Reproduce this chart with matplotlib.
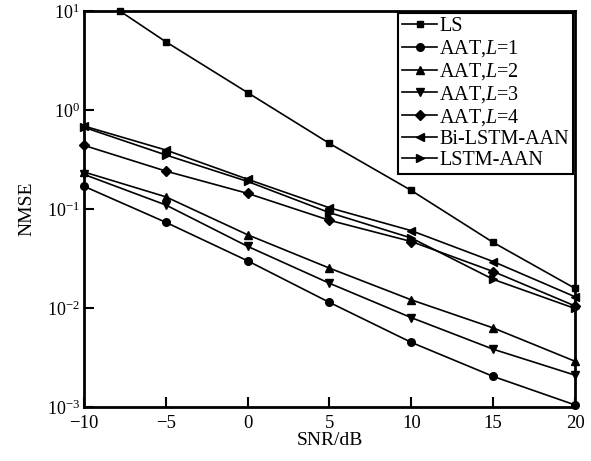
import matplotlib
matplotlib.use("Agg")
import matplotlib.pyplot as plt
import matplotlib.transforms as mtransforms
from matplotlib.ticker import LogLocator, NullLocator, FixedLocator

plt.rcParams['font.family'] = ['Liberation Serif', 'DejaVu Serif']
plt.rcParams['mathtext.fontset'] = 'custom'
plt.rcParams['mathtext.rm'] = 'Liberation Serif'
plt.rcParams['mathtext.it'] = 'Liberation Serif:italic'
plt.rcParams['mathtext.bf'] = 'Liberation Serif:bold'

snr = [-10, -5, 0, 5, 10, 15, 20]

# LS curve enters the plotted range at the top edge
ls_snr = [-7.8, -5, 0, 5, 10, 15, 20]
ls = [10.0, 4.9, 1.5, 0.46, 0.154, 0.046, 0.0158]

aat_l1 = [0.17, 0.0735, 0.030, 0.0114, 0.0045, 0.00204, 0.00105]
aat_l2 = [0.237, 0.133, 0.055, 0.0253, 0.0121, 0.0063, 0.0029]
aat_l3 = [0.224, 0.110, 0.042, 0.0178, 0.0080, 0.00384, 0.0021]
aat_l4 = [0.44, 0.242, 0.144, 0.077, 0.047, 0.0234, 0.0105]
bi_lstm = [0.69, 0.395, 0.20, 0.103, 0.0605, 0.0295, 0.013]
lstm = [0.67, 0.352, 0.19, 0.092, 0.051, 0.0195, 0.0099]

x_ticks = [-10, -5, 0, 5, 10, 15, 20]

fig = plt.figure(figsize=(5.91, 4.61), dpi=100)
ax = fig.add_axes([0.142, 0.117, 0.831, 0.859])

style = dict(color='black', linewidth=1.2, clip_on=False)
ax.plot(ls_snr, ls, marker='s', markersize=5, label='LS', **style)
ax.plot(snr, aat_l1, marker='o', markersize=5.5, label='AAT,$L$=1', **style)
ax.plot(snr, aat_l2, marker='^', markersize=5.5, label='AAT,$L$=2', **style)
ax.plot(snr, aat_l3, marker='v', markersize=5.5, label='AAT,$L$=3', **style)
ax.plot(snr, aat_l4, marker='D', markersize=4.8, label='AAT,$L$=4', **style)
ax.plot(snr, bi_lstm, marker='<', markersize=5.5, label='Bi-LSTM-AAN', **style)
ax.plot(snr, lstm, marker='>', markersize=5.5, label='LSTM-AAN', **style)

ax.set_yscale('log')
ax.set_xlim(-10, 20)
ax.set_ylim(1e-3, 1e1)
ax.xaxis.set_major_locator(FixedLocator(x_ticks))
ax.set_xticklabels(['\u221210', '\u22125', '0', '5', '10', '15', '20'])
ax.yaxis.set_major_locator(LogLocator(base=10, numticks=10))
ax.yaxis.set_minor_locator(NullLocator())

ax.tick_params(axis='both', which='major', direction='in', length=7, width=1.5,
               top=False, right=False, colors='black')
ax.tick_params(axis='x', pad=6, labelsize=13.5)
ax.tick_params(axis='y', pad=3, labelsize=13)
for sp in ax.spines.values():
    sp.set_linewidth(2)
    sp.set_color('black')

ax.set_xlabel('SNR/dB', fontsize=14, labelpad=0)
ax.set_ylabel('NMSE', fontsize=14, labelpad=8)

leg = ax.legend(loc='upper right', fontsize=14.5, frameon=True, fancybox=False,
                framealpha=1, edgecolor='black', handlelength=1.75,
                handletextpad=0.1, labelspacing=0.1, borderpad=0.2,
                borderaxespad=0.1)
leg.get_frame().set_linewidth(1.5)

# lift the lowest y label slightly so it clears the first x label
fig.canvas.draw()
ylabels = ax.get_yticklabels()
lift = mtransforms.ScaledTranslation(0, 3 / 72, fig.dpi_scale_trans)
ylabels[0].set_transform(ylabels[0].get_transform() + lift)

fig.savefig('out.png', dpi=100)
